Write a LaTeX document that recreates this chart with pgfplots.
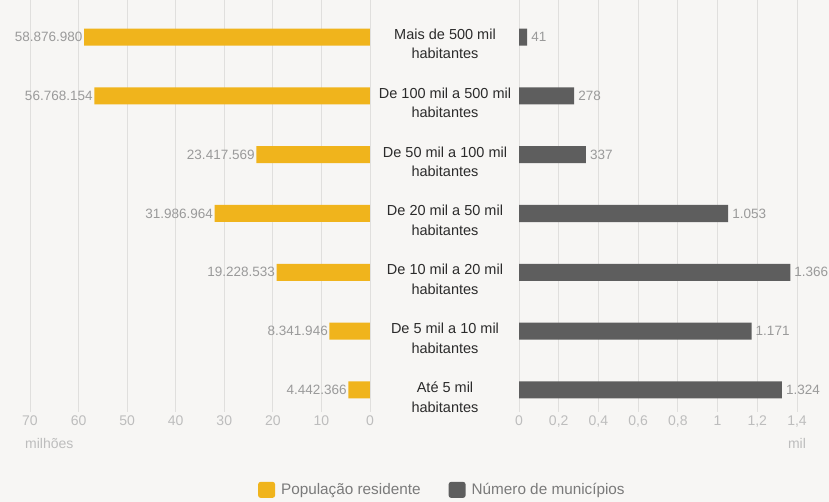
\documentclass[border=0pt]{standalone}
\usepackage{pgfplots}
\pgfplotsset{compat=1.18}
\usepackage{fontspec}
\setmainfont{Liberation Sans}
\definecolor{bg}{HTML}{F7F6F4}
\definecolor{yel}{HTML}{F0B41C}
\definecolor{dgr}{HTML}{5E5E5E}
\definecolor{gridc}{HTML}{E0DFDD}
\definecolor{tickc}{HTML}{BDBDBD}
\definecolor{labc}{HTML}{9A9A9A}
\definecolor{catc}{HTML}{2B2B2B}
\definecolor{legc}{HTML}{7A7A7A}
\pgfplotstableread{
x y lab
58.876980 0 58.876.980
56.768154 1 56.768.154
23.417569 2 23.417.569
31.986964 3 31.986.964
19.228533 4 19.228.533
8.341946 5 8.341.946
4.442366 6 4.442.366
}\pop
\pgfplotstableread{
x y lab
0.041 0 41
0.278 1 278
0.337 2 337
1.053 3 1.053
1.366 4 1.366
1.171 5 1.171
1.324 6 1.324
}\mun
\pgfplotsset{
  common/.style={
    scale only axis, height=412pt,
    y dir=reverse, ymin=-0.629, ymax=6.374,
    axis line style={draw=none},
    major tick length=0pt,
    xmajorgrids, grid style={gridc, line width=0.8pt},
    ymajorgrids=false,
    /pgf/number format/assume math mode=true,
    xticklabel style={text=tickc, font=\fontsize{14}{15}\selectfont},
  }
}
\begin{document}
\begin{tikzpicture}[x=1pt,y=1pt]
\fill[bg] (0,0) rectangle (829,502);
\begin{axis}[common,
  at={(30pt,90pt)}, anchor=south west, width=340pt,
  x dir=reverse, xmin=0, xmax=70,
  xtick={0,10,...,70},
  xticklabels={0,10,20,30,40,50,60,70},
  ytick=\empty,
]
\addplot[xbar, bar shift=0pt, bar width=17pt, fill=yel, draw=none,
  nodes near coords, point meta=explicit symbolic,
  every node near coord/.append style={anchor=east, inner sep=1.5pt, text=labc, font=\fontsize{13.5}{14}\selectfont}]
  table[x=x, y=y, meta=lab] {\pop};
\end{axis}
\begin{axis}[common,
  at={(519pt,90pt)}, anchor=south west, width=278pt,
  xmin=0, xmax=1.4,
  xtick={0,0.2,...,1.4},
  xticklabels={0,{0,2},{0,4},{0,6},{0,8},1,{1,2},{1,4}},
  ytick={0,...,6},
  yticklabels={{Mais de 500 mil\\habitantes},{De 100 mil a 500 mil\\habitantes},{De 50 mil a 100 mil\\habitantes},{De 20 mil a 50 mil\\habitantes},{De 10 mil a 20 mil\\habitantes},{De 5 mil a 10 mil\\habitantes},{Até 5 mil\\habitantes}},
  yticklabel style={anchor=center, xshift=-74pt, yshift=-7pt, align=center, text=catc, font=\fontsize{14.5}{19.5}\selectfont},
  legend style={at={(axis description cs:-0.950,-0.189)}, anchor=west, draw=none, fill=none,
    legend columns=2, font=\fontsize{15.3}{17}\selectfont, text=legc,
    /tikz/every odd column/.append style={column sep=4pt},
    /tikz/every even column/.append style={column sep=26pt}},
  legend image code/.code={\fill[#1, rounded corners=2.5pt] (0pt,-8pt) rectangle (17pt,8pt);},
]
\addplot[xbar, bar shift=0pt, bar width=17pt, fill=dgr, draw=none,
  nodes near coords, point meta=explicit symbolic,
  every node near coord/.append style={anchor=west, inner sep=4pt, text=labc, font=\fontsize{13.5}{14}\selectfont},
  forget plot]
  table[x=x, y=y, meta=lab] {\mun};
\addlegendimage{fill=yel, draw=none}
\addlegendentry{População residente}
\addlegendimage{fill=dgr, draw=none}
\addlegendentry{Número de municípios}
\end{axis}
\node[anchor=west, text=tickc, font=\fontsize{14}{15}\selectfont, inner sep=0pt] at (25,59) {milhões};
\node[anchor=center, text=tickc, font=\fontsize{14}{15}\selectfont, inner sep=0pt] at (797,59) {mil};
\pgfresetboundingbox
\useasboundingbox (0,0) rectangle (829,502);
\end{tikzpicture}
\end{document}
